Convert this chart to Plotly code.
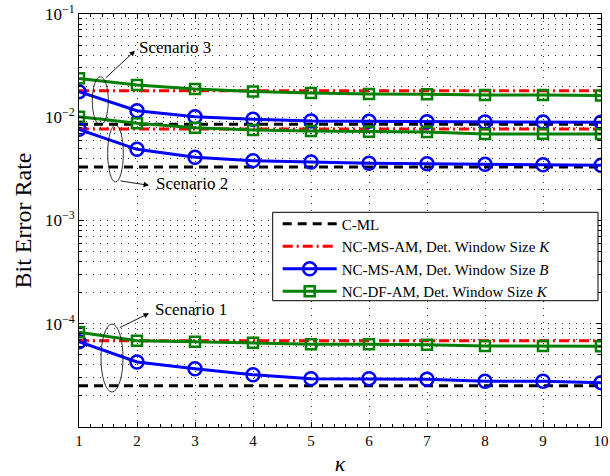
import plotly.graph_objects as go

# ---------------- data ----------------
kappa = [1, 2, 3, 4, 5, 6, 7, 8, 9, 10]

# Scenario 1
cml_s1 = [2.51e-5] * 10
ms_k_s1 = [6.85e-5] * 10
ms_b_s1 = [6.70e-5, 4.26e-5, 3.67e-5, 3.21e-5, 2.94e-5, 2.94e-5, 2.90e-5, 2.77e-5, 2.77e-5, 2.69e-5]
df_k_s1 = [8.26e-5, 6.85e-5, 6.70e-5, 6.55e-5, 6.32e-5, 6.32e-5, 6.26e-5, 6.09e-5, 6.09e-5, 6.05e-5]

# Scenario 2
cml_s2 = [3.30e-3] * 10
ms_k_s2 = [7.69e-3] * 10
ms_b_s2 = [7.64e-3, 4.89e-3, 4.09e-3, 3.80e-3, 3.69e-3, 3.58e-3, 3.55e-3, 3.50e-3, 3.47e-3, 3.42e-3]
df_k_s2 = [1.012e-2, 8.74e-3, 7.92e-3, 7.52e-3, 7.36e-3, 7.24e-3, 7.20e-3, 6.89e-3, 6.92e-3, 6.89e-3]

# Scenario 3
cml_s3 = [8.55e-3] * 10
ms_k_s3 = [1.81e-2] * 10
ms_b_s3 = [1.77e-2, 1.157e-2, 1.012e-2, 9.55e-3, 9.20e-3, 9.15e-3, 9.06e-3, 9.00e-3, 9.00e-3, 8.93e-3]
df_k_s3 = [2.38e-2, 2.05e-2, 1.88e-2, 1.78e-2, 1.72e-2, 1.68e-2, 1.67e-2, 1.64e-2, 1.64e-2, 1.62e-2]

series_names = ["C-ML",
                "NC-MS-AM, Det. Window Size <i>K</i>",
                "NC-MS-AM, Det. Window Size <i>B</i>",
                "NC-DF-AM, Det. Window Size <i>K</i>"]

y_tick_vals = [1e-5, 1e-4, 1e-3, 1e-2, 1e-1]
y_tick_text = ["", "10<sup>−4</sup>", "10<sup>−3</sup>", "10<sup>−2</sup>", "10<sup>−1</sup>"]
x_tick_vals = kappa
x_tick_text = [str(k) for k in kappa]

# ---------------- figure ----------------
FONT = "Liberation Serif"
W, H = 610, 476
L, R, T, B = 79, 9, 14, 49
GRID = "#333333"
GDASH = "1px,6px"

fig = go.Figure()

styles = [
    dict(mode="lines", line=dict(color="black", width=3, dash="9px,6px")),
    dict(mode="lines", line=dict(color="#ff0000", width=3, dash="10px,4px,2px,4px")),
    dict(mode="lines+markers", line=dict(color="#0000ff", width=3),
         marker=dict(symbol="circle-open", size=13, color="#0000ff", line=dict(width=2.5, color="#0000ff"))),
    dict(mode="lines+markers", line=dict(color="#008000", width=3),
         marker=dict(symbol="square-open", size=10, color="#008000", line=dict(width=2.5, color="#008000"))),
]

groups = [
    [cml_s1, cml_s2, cml_s3],
    [ms_k_s1, ms_k_s2, ms_k_s3],
    [ms_b_s1, ms_b_s2, ms_b_s3],
    [df_k_s1, df_k_s2, df_k_s3],
]

for gi, (name, st, data) in enumerate(zip(series_names, styles, groups)):
    for si, ys in enumerate(data):
        fig.add_trace(go.Scatter(x=kappa, y=ys, name=name, legendgroup=name,
                                 showlegend=(si == 0), **st))

def px_x(p):
    return (p - L) / (W - L - R)

def px_y(p):
    return (H - B - p) / (H - T - B)

shapes = []
# legend box
shapes.append(dict(type="rect", xref="paper", yref="paper", layer="above",
                   x0=px_x(272.7), x1=px_x(598), y0=px_y(300.7), y1=px_y(212.3),
                   fillcolor="white", line=dict(color="black", width=1)))
# ellipses
ellipses = [(92.3, 108.3, 76.7, 125), (107.7, 123.3, 125, 182), (101, 123, 324, 392)]
for x0, x1, y0, y1 in ellipses:
    shapes.append(dict(type="circle", xref="paper", yref="paper",
                       x0=px_x(x0), x1=px_x(x1), y0=px_y(y1), y1=px_y(y0),
                       line=dict(color="black", width=0.8)))

annotations = []
arrows = [((104.3, 79.3), (135, 50.7)), ((119, 180.7), (149, 185.3)), ((118.3, 328.3), (149, 313.3))]
for (tx, ty), (hx, hy) in arrows:
    annotations.append(dict(xref="paper", yref="paper", x=px_x(hx), y=px_y(hy),
                            ax=tx - hx, ay=ty - hy, text="", showarrow=True,
                            arrowhead=2, arrowsize=1.2, arrowwidth=0.9, arrowcolor="black"))
labels = [("Scenario 3", 137, 48), ("Scenario 2", 154, 183), ("Scenario 1", 153, 309)]
for txt, x, y in labels:
    annotations.append(dict(xref="paper", yref="paper", x=px_x(x), y=px_y(y), text=txt,
                            showarrow=False, xanchor="left", yanchor="middle",
                            font=dict(family=FONT, size=17, color="black")))

minor_y = [m * 10.0 ** d for d in range(-5, -1) for m in range(2, 10)]

fig.update_layout(
    width=W, height=H,
    margin=dict(l=L, r=R, t=T, b=B, autoexpand=False),
    paper_bgcolor="white", plot_bgcolor="white",
    font=dict(family=FONT, size=14, color="black"),
    shapes=shapes, annotations=annotations,
    legend=dict(x=px_x(277.7), y=px_y(207.5), xanchor="left", yanchor="top",
                bgcolor="rgba(0,0,0,0)", borderwidth=0,
                font=dict(family=FONT, size=15, color="black"),
                itemwidth=54, tracegroupgap=0),
    xaxis=dict(range=[1, 10], tickvals=x_tick_vals, ticktext=x_tick_text,
               ticks="inside", ticklen=5, tickcolor="black", automargin=False,
               showline=True, linecolor="black", linewidth=1, mirror="allticks",
               showgrid=True, gridcolor=GRID, griddash=GDASH, gridwidth=1,
               zeroline=False, tickfont=dict(family=FONT, size=15),
               minor=dict(dtick=0.2, ticks="inside", ticklen=3, tickcolor="black", showgrid=False),
               title=dict(text="<i>κ</i>", font=dict(family=FONT, size=22), standoff=12)),
    yaxis=dict(type="log", range=[-5, -1], tickvals=y_tick_vals, ticktext=y_tick_text,
               ticks="inside", ticklen=5, tickcolor="black", automargin=False,
               showline=True, linecolor="black", linewidth=1, mirror="allticks",
               showgrid=True, gridcolor=GRID, griddash=GDASH, gridwidth=1,
               zeroline=False, tickfont=dict(family=FONT, size=17),
               minor=dict(tickvals=minor_y, ticks="inside", ticklen=3, tickcolor="black",
                          showgrid=True, gridcolor=GRID, griddash=GDASH, gridwidth=1),
               title=dict(text="Bit Error Rate", font=dict(family=FONT, size=24), standoff=6)),
)

fig.write_html("out.html")
